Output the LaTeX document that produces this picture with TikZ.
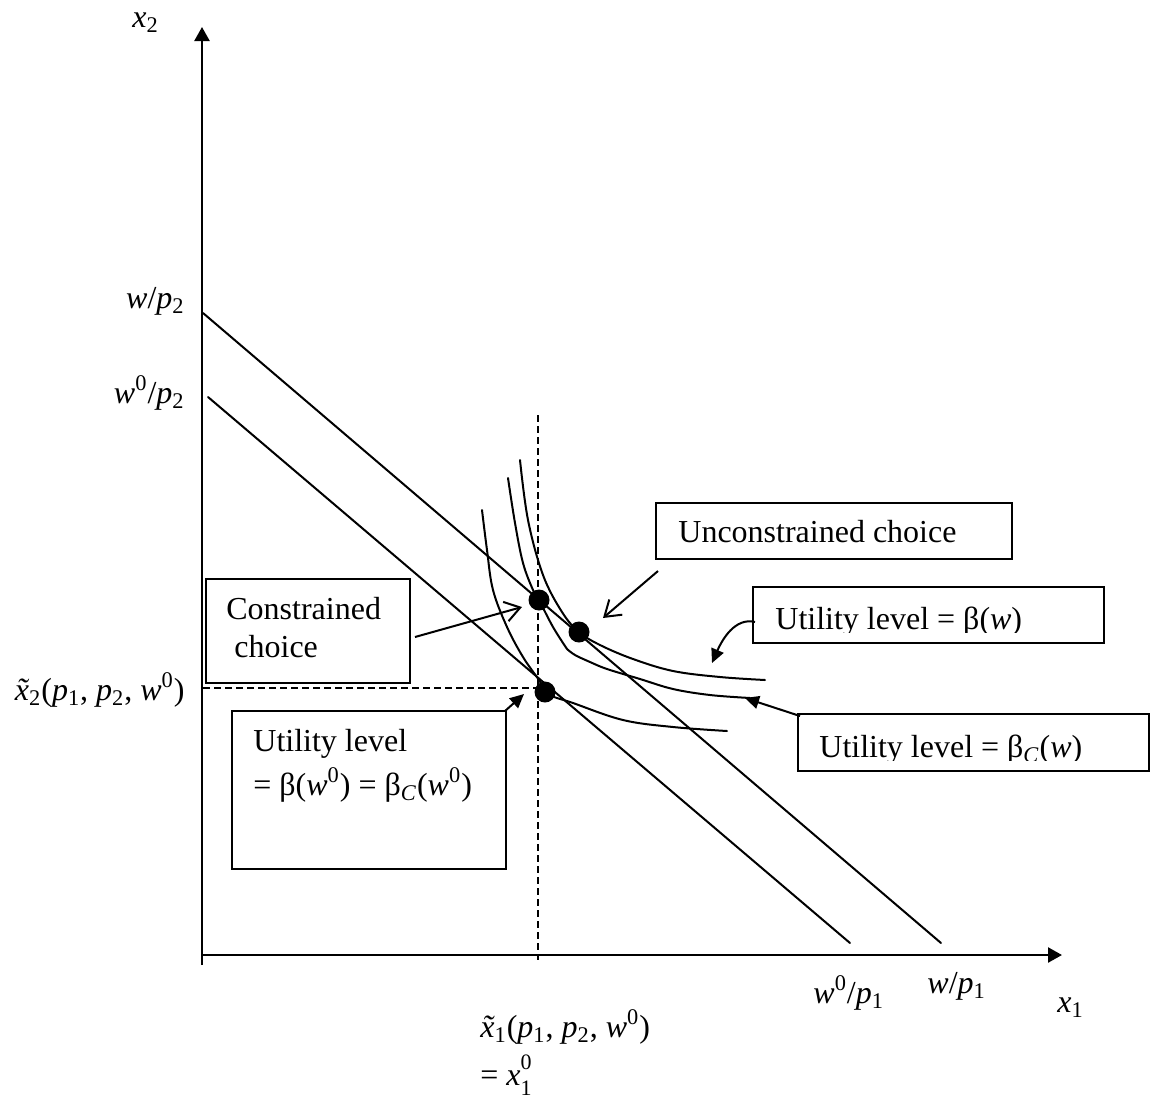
\documentclass[tikz,border=0pt]{standalone}
\usepackage{fontspec}
\setmainfont{Liberation Serif}
\usetikzlibrary{arrows.meta}
\newcommand{\mainsz}{\fontsize{16}{19.2}\selectfont}
\newcommand{\scsz}{\fontsize{11}{11}\selectfont}
\newcommand{\iv}[1]{\textit{#1}}
\newcommand{\lo}[1]{\textsubscript{#1}}
\newcommand{\hi}[1]{\textsuperscript{#1}}
\newcommand{\xt}{{\itshape\accent"02DC x}}
\tikzset{
  ln/.style={line width=1pt, line cap=round},
  axis/.style={line width=1.2pt, -{Triangle[length=7pt,width=7.5pt]}},
  box/.style={draw, line width=1pt, inner sep=0pt},
  txt/.style={inner sep=0pt, font=\mainsz},
  openarr/.style={line width=1pt, -{Straight Barb[length=7.5pt,width=10pt,line width=1pt]}},
  fillarr/.style={line width=1pt, -{Triangle[length=7pt,width=6.5pt]}},
  dot/.style={circle, fill=black, inner sep=0pt, minimum size=10.5pt},
  dsh/.style={line width=1pt, dash pattern=on 3.5pt off 2pt}
}
\begin{document}
\begin{tikzpicture}[x=0.5pt,y=-0.5pt]
\useasboundingbox (0,0) rectangle (1152,1099);

% axes
\coordinate (O) at (202,965);
\coordinate (Oy) at (202,955);
\coordinate (ytip) at (202,27);
\coordinate (xtip) at (1062,955);
\draw[axis] (O) -- (ytip);
\draw[axis] (Oy) -- (xtip);
\node[txt, anchor=base west] (lx2) at (132,27) {\iv{x}\lo{2}};
\node[txt, anchor=base west] (lx1) at (1057,1012) {\iv{x}\lo{1}};

% budget lines
\coordinate (B1a) at (203,313);
\coordinate (B1b) at (941,943);
\coordinate (B0a) at (208,397);
\coordinate (B0b) at (850,943);
\draw[ln] (B1a) -- (B1b);
\draw[ln] (B0a) -- (B0b);
\node[txt, anchor=base east] (lwp2) at (185,308) {\iv{w}/\iv{p}\lo{2}};
\node[txt, anchor=base east] (lw0p2) at (185,403) {\iv{w}\hi{0}/\iv{p}\lo{2}};
\node[txt, anchor=base west] (lw0p1) at (813,1003) {\iv{w}\hi{0}/\iv{p}\lo{1}};
\node[txt, anchor=base west] (lwp1) at (927,993) {\iv{w}/\iv{p}\lo{1}};

% dashed guides
\coordinate (vtop) at (538,415);
\coordinate (vbot) at (538,960);
\coordinate (hl) at (203,688);
\coordinate (hr) at (540,688);
\draw[dsh] (vtop) -- (vbot);
\draw[dsh] (hl) -- (hr);
\node[txt, anchor=base east] (lxt2) at (185,700) {\xt\lo{2}(\iv{p}\lo{1}, \iv{p}\lo{2}, \iv{w}\hi{0})};
\node[txt, anchor=base west] (lxt1) at (480,1037) {\xt\lo{1}(\iv{p}\lo{1}, \iv{p}\lo{2}, \iv{w}\hi{0})};
\node[txt, anchor=base west] (lx10) at (480,1085) {= \iv{x}\rlap{\raisebox{0.5em}{\scsz 0}}\raisebox{-0.32em}{\scsz 1}};

% indifference curves
\draw[ln] plot[smooth, tension=0.6] coordinates {(520,460) (528,520) (543,575) (562,612) (579,632) (600,645) (633,659) (673,671) (720,677) (765,680)};
\draw[ln] plot[smooth, tension=0.6] coordinates {(508,478) (515,523) (523,563) (533,590) (539,600) (553,627) (567,649)};
\draw[ln] plot[smooth, tension=0.6] coordinates {(567,649) (575,655) (590,662) (607,669) (640,679) (673,689) (710,695) (750,698)};
\draw[ln] plot[smooth, tension=0.6] coordinates {(482,510) (487,550) (493,590) (507,627) (523,657) (539,680) (548,694) (573,703) (623,720) (673,727) (727,731)};

% points
\node[dot] (pc) at (539,600) {};
\node[dot] (pu) at (579,632) {};
\node[dot] (p0) at (545,692) {};

% boxes
\node[box, minimum width=178pt, minimum height=28pt] (unc) at (834,531) {};
\node[txt, anchor=base west] (uncT) at (678,542) {Unconstrained choice};

\node[box, minimum width=175.5pt, minimum height=28pt] (ub) at (928.5,615) {};
\begin{scope}
\clip (753,587) rectangle (1104,632);
\node[txt, anchor=base west] (ubT) at (775,629) {Utility level = β(\iv{w})};
\end{scope}

\node[box, minimum width=175.5pt, minimum height=28.5pt] (ubc) at (973.5,742.5) {};
\begin{scope}
\clip (798,714) rectangle (1149,760);
\node[txt, anchor=base west] (ubcT) at (819,757) {Utility level = β\lo{\iv{C}}(\iv{w})};
\end{scope}

\node[box, minimum width=102pt, minimum height=52pt] (cc) at (308,631) {};
\node[txt, anchor=base west] (ccT1) at (226,619) {Constrained};
\node[txt, anchor=base west] (ccT2) at (234,657) {choice};

\node[box, minimum width=137pt, minimum height=79pt] (u0) at (369,790) {};
\node[txt, anchor=base west] (u0T1) at (253,751) {Utility level};
\node[txt, anchor=base west] (u0T2) at (253,795) {= β(\iv{w}\hi{0}) = β\lo{\iv{C}}(\iv{w}\hi{0})};

% arrows
\coordinate (ccA) at (415,637);
\coordinate (ccB) at (522,607);
\draw[openarr] (ccA) -- (ccB);
\coordinate (uncA) at (658,571);
\coordinate (uncB) at (603,618);
\draw[openarr] (uncA) -- (uncB);
\coordinate (ubA) at (755,622);
\coordinate (ubB) at (712,663);
\draw[fillarr] (ubA) .. controls (735,617) and (722,640) .. (ubB);
\coordinate (ubcA) at (800,716);
\coordinate (ubcB) at (745,698);
\draw[fillarr] (ubcA) -- (ubcB);
\coordinate (u0A) at (505,711);
\coordinate (u0B) at (524,694);
\draw[fillarr] (u0A) -- (u0B);
\end{tikzpicture}
\end{document}
